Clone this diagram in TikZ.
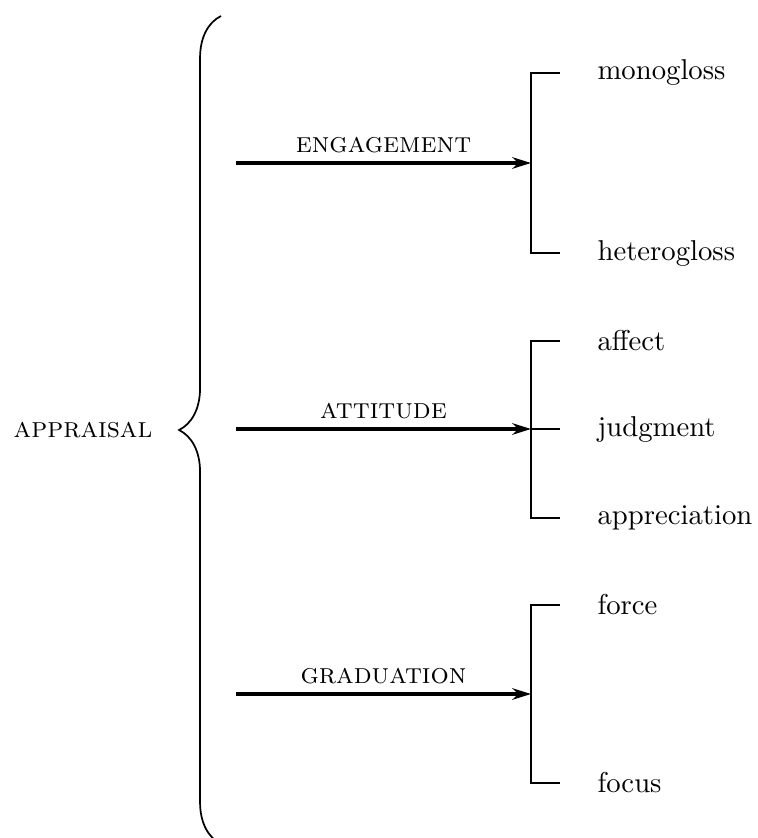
\documentclass[tikz,border=0pt]{standalone}
\usetikzlibrary{decorations.pathreplacing,arrows.meta}
\begin{document}
\begin{tikzpicture}[x=0.3484pt,y=-0.3484pt,
  bracestyle/.style={decorate,decoration={brace,amplitude=14.6pt},line width=0.6pt},
  arr/.style={-{Stealth[length=6.5pt,width=4pt]},line width=1.1pt},
  brk/.style={line width=0.6pt},
  leaf/.style={anchor=west,inner sep=0pt},
  lab/.style={above=2.8pt,inner sep=0pt,midway,font=\scshape}]
\useasboundingbox (0,0) rectangle (757,838);
\node[font=\scshape] (app) at (83,430) {appraisal};
\draw[bracestyle] (221,844) -- (221,16);
% arrows
\coordinate (es) at (236,163);
\coordinate (ee) at (531,163);
\coordinate (as) at (236,429);
\coordinate (ae) at (531,429);
\coordinate (gs) at (236,694);
\coordinate (ge) at (531,694);
\draw[arr] (es) -- (ee) node[lab] {engagement};
\draw[arr] (as) -- (ae) node[lab] {attitude};
\draw[arr] (gs) -- (ge) node[lab] {graduation};
% leaves
\node[leaf] (mono) at (597,73) {monogloss};
\node[leaf] (hetero) at (597,253) {heterogloss};
\node[leaf] (aff) at (597,341) {affect};
\node[leaf] (judg) at (597,429) {judgment};
\node[leaf] (appr) at (597,518) {appreciation};
\node[leaf] (force) at (597,605) {force};
\node[leaf] (focus) at (597,783) {focus};
% brackets
\draw[brk] (560,73) -- (531,73) -- (531,253) -- (560,253);
\draw[brk] (560,341) -- (531,341) -- (531,518) -- (560,518);
\draw[brk] (ae) -- (560,429);
\draw[brk] (560,605) -- (531,605) -- (531,783) -- (560,783);
\end{tikzpicture}
\end{document}
